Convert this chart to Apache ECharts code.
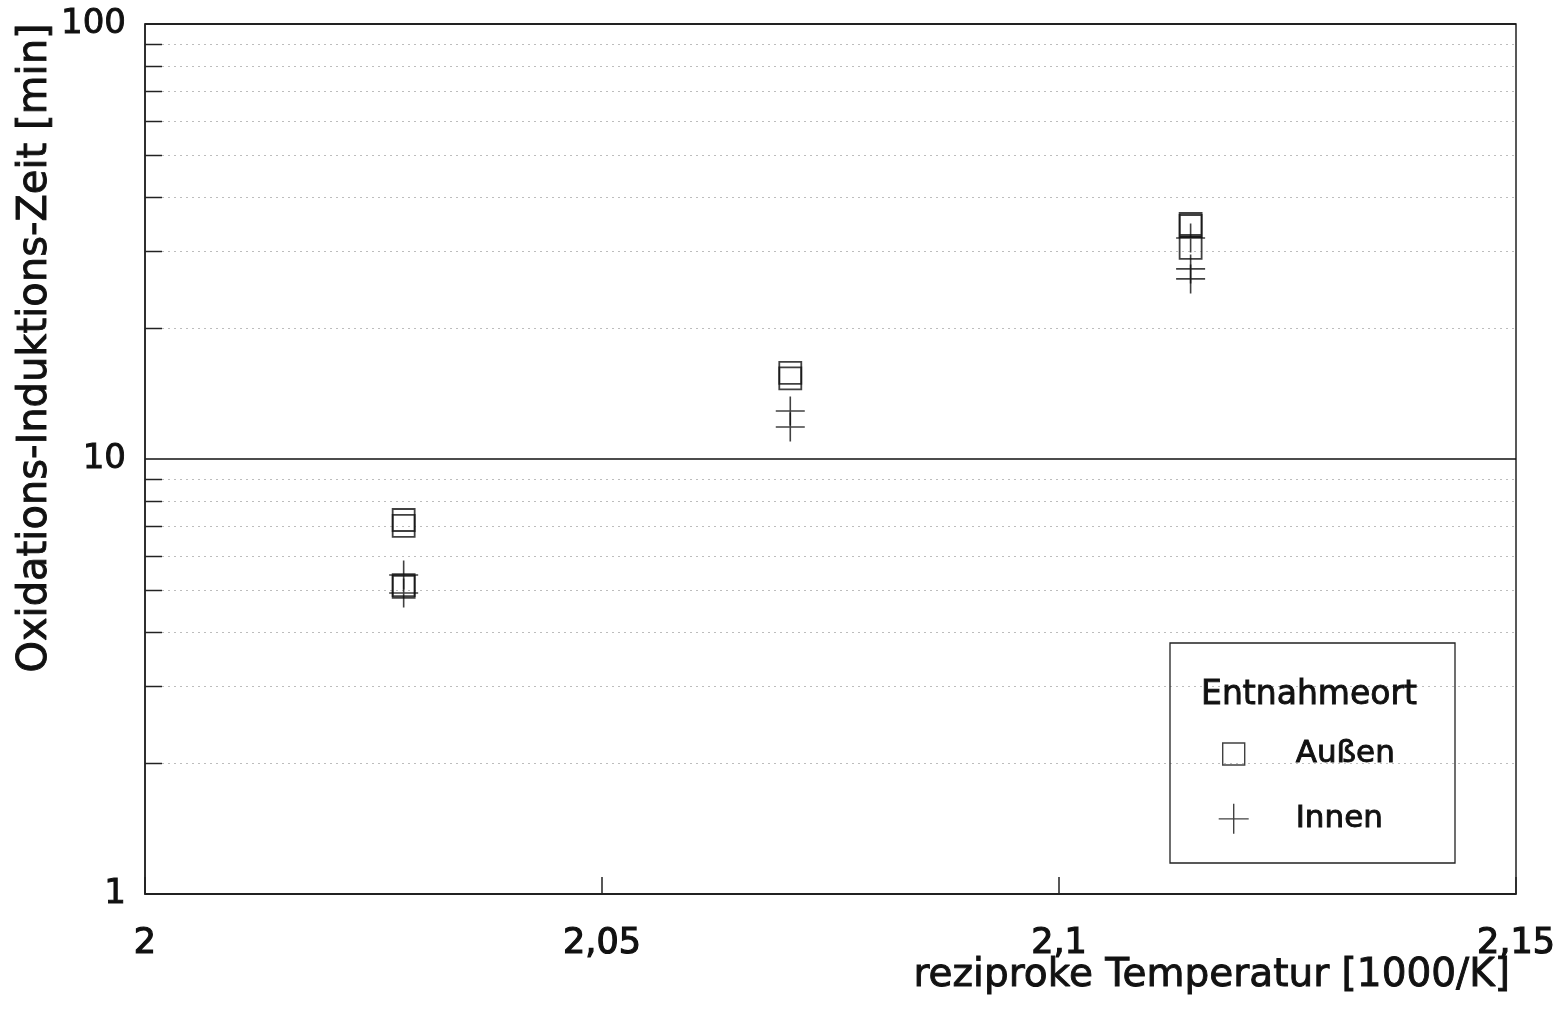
<!DOCTYPE html>
<html>
<head>
<meta charset="utf-8">
<script src="https://cdn.jsdelivr.net/npm/echarts@6/dist/echarts.min.js"></script>
<style>
  html, body { margin: 0; padding: 0; background: #fff; }
  #chart { width: 1564px; height: 1016px; }
</style>
</head>
<body>
<div id="chart"></div>
<script>
// Oxidation induction time vs. reciprocal temperature, by sampling location
const seriesNames = ['Außen', 'Innen'];
const aussenX = [2.0283, 2.0283, 2.0283, 2.0283, 2.0706, 2.0706, 2.1144, 2.1144, 2.1144];
const aussenY = [7.24, 7.02, 5.13, 5.08, 15.77, 15.32, 34.69, 34.33, 30.56];
const innenX = [2.0283, 2.0283, 2.0706, 2.0706, 2.1144, 2.1144, 2.1144];
const innenY = [5.41, 4.92, 12.89, 11.85, 32.21, 27.35, 25.94];
const xRange = [2, 2.15];
const xStep = 0.05;
const yRange = [1, 100];
const yMinor = [2, 3, 4, 5, 6, 7, 8, 9, 20, 30, 40, 50, 60, 70, 80, 90];
const legendTitle = 'Entnahmeort';
const xTitle = 'reziproke Temperatur [1000/K]';
const yTitle = 'Oxidations-Induktions-Zeit [min]';

const FONT = '"DejaVu Sans", "Liberation Sans", sans-serif';
const INK = '#111';
// slight outline so the lettering reads as heavy as plotter type
const HEAVY = { textBorderColor: INK, textBorderWidth: 0.9 };
const SQUARE_ICON = 'path://M0,0M30,30M4,4L26,4L26,26L4,26Z';
const CROSS_PATH = 'path://M15,0L15,30M0,15L30,15';

const zip = (xs, ys) => xs.map((x, i) => [x, ys[i]]);

const chart = echarts.init(document.getElementById('chart'), null, { renderer: 'canvas' });

chart.setOption({
  animation: false,
  backgroundColor: '#fff',
  grid: {
    left: 145, right: 48, top: 24, bottom: 122,
    show: true, borderColor: '#222', borderWidth: 1.5,
    containLabel: false, outerBoundsMode: 'none'
  },
  xAxis: {
    type: 'value',
    min: xRange[0], max: xRange[1], interval: xStep,
    axisLine: { lineStyle: { color: '#222', width: 1.5 } },
    axisTick: { inside: true, length: 17, lineStyle: { color: '#222', width: 1.5 } },
    splitLine: { show: false },
    axisLabel: Object.assign({
      margin: 32, fontSize: 35, fontFamily: FONT, color: INK,
      formatter: v => String(+v.toFixed(2)).replace('.', ',')
    }, { textBorderColor: INK, textBorderWidth: 1.2 })
  },
  yAxis: {
    type: 'log', logBase: 10,
    min: yRange[0], max: yRange[1],
    axisLine: { lineStyle: { color: '#222', width: 1.5 } },
    axisTick: { show: false },
    splitLine: { show: true, lineStyle: { color: '#111', width: 1.6 } },
    axisLabel: Object.assign({ margin: 19, fontSize: 34, fontFamily: FONT, color: INK }, HEAVY)
  },
  legend: {
    orient: 'vertical',
    left: 1218, top: 738,
    padding: 0,
    itemWidth: 30, itemHeight: 30, itemGap: 33,
    selectedMode: false,
    data: [
      { name: seriesNames[0], icon: SQUARE_ICON },
      { name: seriesNames[1], icon: CROSS_PATH }
    ],
    itemStyle: { color: 'rgba(0,0,0,0)', borderColor: '#111', borderWidth: 1.4 },
    textStyle: Object.assign({ fontSize: 31, fontFamily: FONT, color: INK, padding: [12, 0, 0, 42] }, HEAVY)
  },
  graphic: [
    {
      type: 'rect', z: 50,
      shape: { x: 1170, y: 643, width: 285, height: 220 },
      style: { fill: 'none', stroke: '#222', lineWidth: 1.3 }
    },
    {
      type: 'text', z: 50, x: 1309, y: 695,
      style: Object.assign({ text: legendTitle, fontSize: 33, fontFamily: FONT, fill: INK,
               textAlign: 'center', textVerticalAlign: 'middle' }, { stroke: INK, lineWidth: 0.9 })
    },
    {
      type: 'text', z: 50, x: 36, y: 348, rotation: Math.PI / 2,
      style: { text: yTitle, fontSize: 40, fontFamily: FONT, fill: INK, stroke: INK, lineWidth: 0.9,
               textAlign: 'center', textVerticalAlign: 'middle' }
    },
    {
      type: 'text', z: 50, x: 1510, y: 976,
      style: { text: xTitle, fontSize: 39, fontFamily: FONT, fill: INK, stroke: INK, lineWidth: 0.9,
               textAlign: 'right', textVerticalAlign: 'middle' }
    }
  ],
  series: [
    {
      // minor log gridlines (2..9 per decade) with short inward ticks
      type: 'custom',
      name: 'minorGrid',
      silent: true,
      z: 1,
      data: yMinor.map(v => [xRange[0], v]),
      encode: { x: 0, y: 1 },
      renderItem: (params, api) => {
        const cs = params.coordSys;
        const y = Math.round(api.coord([xRange[0], api.value(1)])[1]) + 0.5;
        return {
          type: 'group',
          children: [
            { type: 'line', shape: { x1: cs.x, y1: y, x2: cs.x + 17, y2: y },
              style: { stroke: '#222', lineWidth: 1.5 } },
            { type: 'line', shape: { x1: cs.x + 17, y1: y, x2: cs.x + cs.width, y2: y },
              style: { stroke: '#bdbdbd', lineWidth: 1, lineDash: [2, 4] } }
          ]
        };
      }
    },
    {
      type: 'scatter',
      name: seriesNames[0],
      z: 5,
      symbol: 'rect',
      symbolSize: 22,
      itemStyle: { color: 'rgba(0,0,0,0)', borderColor: '#111', borderWidth: 1.8 },
      data: zip(aussenX, aussenY)
    },
    {
      type: 'scatter',
      name: seriesNames[1],
      z: 5,
      symbol: CROSS_PATH,
      symbolSize: 29,
      itemStyle: { color: 'rgba(0,0,0,0)', borderColor: '#111', borderWidth: 1.6 },
      data: zip(innenX, innenY)
    }
  ]
});
</script>
</body>
</html>
